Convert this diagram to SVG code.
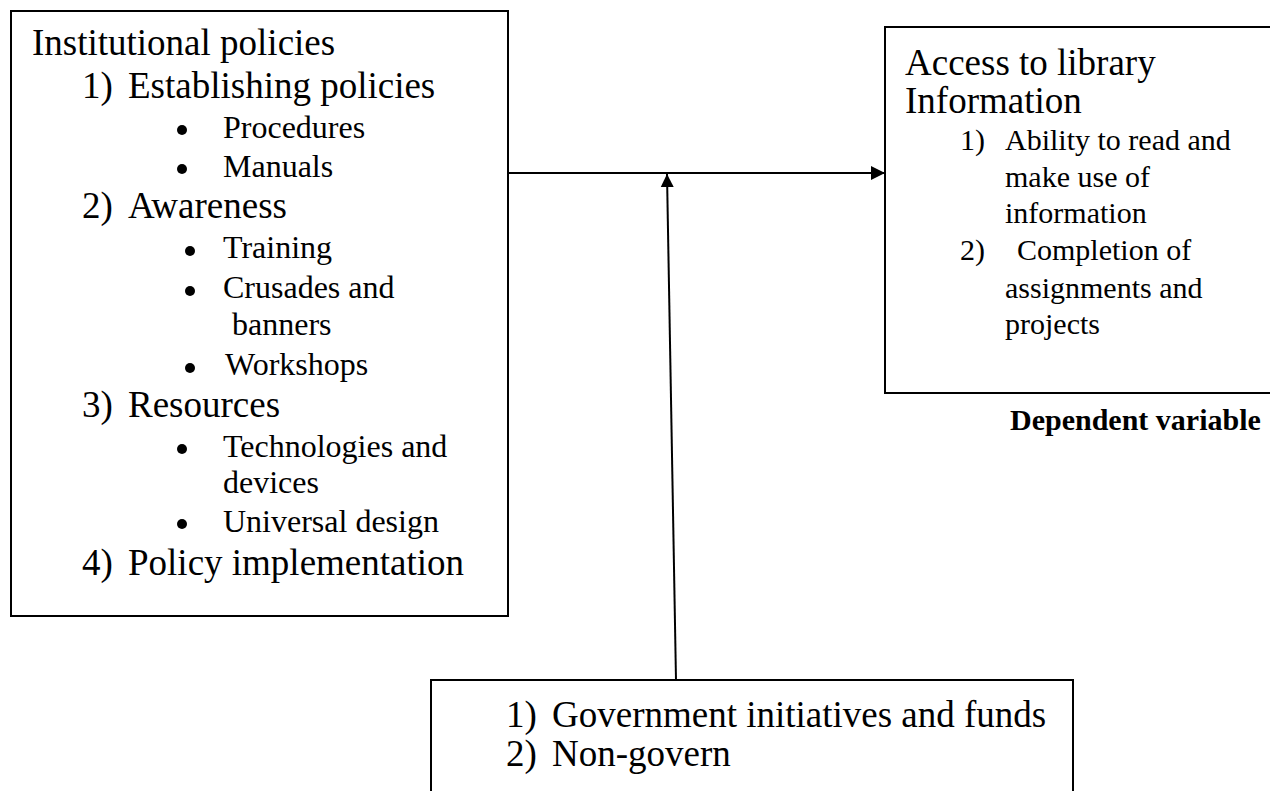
<svg xmlns="http://www.w3.org/2000/svg" width="1270" height="791" viewBox="0 0 1270 791">
<style>
.box{fill:#fff;stroke:#000;stroke-width:2}
.h{font-family:"Liberation Serif","Times New Roman",serif;font-size:37px;fill:#000}
.s{font-family:"Liberation Serif","Times New Roman",serif;font-size:32px;fill:#000}
.r{font-family:"Liberation Serif","Times New Roman",serif;font-size:30px;fill:#000}
.b{font-family:"Liberation Serif","Times New Roman",serif;font-size:30px;font-weight:bold;fill:#000}
.bul{fill:#000}
.con{stroke:#000;stroke-width:2;fill:none}
</style>
<defs>
<marker id="arr" viewBox="0 0 10 10" refX="10" refY="5" markerWidth="15" markerHeight="14" markerUnits="userSpaceOnUse" orient="auto">
<path d="M0,0 L10,5 L0,10 z" fill="#000"/>
</marker>
<marker id="arr2" viewBox="0 0 10 10" refX="10" refY="5" markerWidth="13" markerHeight="15" markerUnits="userSpaceOnUse" orient="auto">
<path d="M0,0 L10,5 L0,10 z" fill="#000"/>
</marker>
</defs>
<rect width="1270" height="791" fill="#fff"/>
<g id="institutional-policies">
<rect class="box" x="11" y="11" width="497" height="605"/>
<text class="h" x="32" y="55">Institutional policies</text>
<text class="h" x="82" y="98">1)</text><text class="h" x="128" y="98">Establishing policies</text>
<circle class="bul" cx="182" cy="130" r="5"/><text class="s" x="223" y="138">Procedures</text>
<circle class="bul" cx="182" cy="169" r="5"/><text class="s" x="223" y="177">Manuals</text>
<text class="h" x="82" y="218">2)</text><text class="h" x="128" y="218">Awareness</text>
<circle class="bul" cx="190" cy="251" r="5"/><text class="s" x="223" y="258">Training</text>
<circle class="bul" cx="190" cy="291" r="5"/><text class="s" x="223" y="298">Crusades and</text>
<text class="s" x="232" y="335">banners</text>
<circle class="bul" cx="190" cy="368" r="5"/><text class="s" x="225" y="375">Workshops</text>
<text class="h" x="82" y="417">3)</text><text class="h" x="128" y="417">Resources</text>
<circle class="bul" cx="182" cy="449" r="5"/><text class="s" x="223" y="457">Technologies and</text>
<text class="s" x="223" y="493">devices</text>
<circle class="bul" cx="182" cy="524" r="5"/><text class="s" x="223" y="532">Universal design</text>
<text class="h" x="82" y="575">4)</text><text class="h" x="128" y="575">Policy implementation</text>
</g>
<g id="access-to-library">
<rect class="box" x="885" y="27" width="420" height="366"/>
<text class="h" x="905" y="75">Access to library</text>
<text class="h" x="905" y="113">Information</text>
<text class="r" x="960" y="150">1)</text><text class="r" x="1005" y="150">Ability to read and</text>
<text class="r" x="1005" y="187">make use of</text>
<text class="r" x="1005" y="223">information</text>
<text class="r" x="960" y="260">2)</text><text class="r" x="1017" y="260">Completion of</text>
<text class="r" x="1005" y="298">assignments and</text>
<text class="r" x="1005" y="334">projects</text>
</g>
<g id="dependent-label">
<text class="b" x="1010" y="430">Dependent variable</text>
</g>
<g id="moderating">
<rect class="box" x="431" y="680" width="642" height="200"/>
<text class="h" x="506" y="727">1)</text><text class="h" x="552" y="727">Government initiatives and funds</text>
<text class="h" x="506" y="766">2)</text><text class="h" x="552" y="766">Non-govern</text>
</g>
<g id="connectors">
<line class="con" x1="507" y1="173" x2="885" y2="173" marker-end="url(#arr)"/>
<line class="con" x1="676" y1="680" x2="667" y2="174" marker-end="url(#arr2)"/>
</g>
</svg>
